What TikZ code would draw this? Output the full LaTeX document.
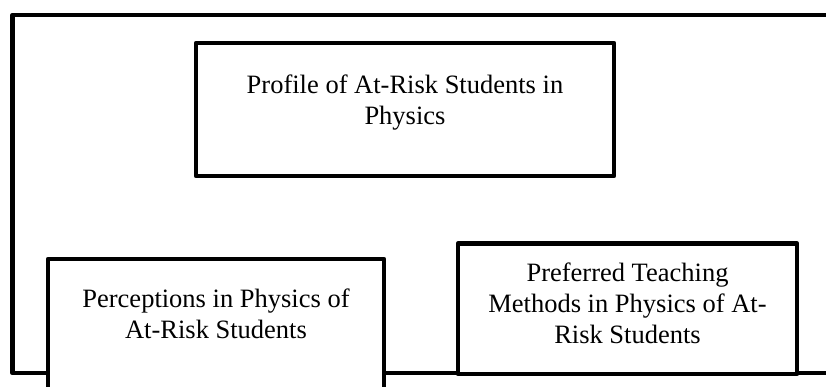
\documentclass[tikz,border=0pt]{standalone}
\usepackage{fontspec}
\setmainfont{Liberation Serif}
\tikzset{
  frameline/.style={line width=4.5pt, line join=round},
  boxshape/.style={draw, line width=4.8pt, fill=white, rectangle, line join=round, inner sep=0pt},
  label/.style={font=\fontsize{26.5}{31}\selectfont, align=center, inner sep=0pt, anchor=base}
}
\begin{document}
\begin{tikzpicture}[x=1pt,y=-1pt]
\clip (0,0) rectangle (826,386);
\fill[white] (0,0) rectangle (826,386);
% outer frame
\coordinate (ftr) at (830,15);
\coordinate (ftl) at (12.5,15);
\coordinate (fbl) at (12.5,373);
\coordinate (fbr) at (830,373);
\draw[frameline] (ftr) -- (ftl) -- (fbl) -- (fbr);
% boxes
\node[boxshape, minimum width=418pt, minimum height=133pt] (profile) at (405,109.5) {};
\node[boxshape, minimum width=336pt, minimum height=160pt] (percep) at (216,339) {};
\node[boxshape, minimum width=339pt, minimum height=130.5pt] (pref) at (627.5,308.75) {};
% texts
\node[label] (tprofile) at (405,124) {Profile of At-Risk Students in\\Physics};
\node[label] (tpercep) at (216,338) {Perceptions in Physics of\\At-Risk Students};
\node[label] (tpref) at (627.5,343.5) {Preferred Teaching\\Methods in Physics of At-\\Risk Students};
\end{tikzpicture}
\end{document}
